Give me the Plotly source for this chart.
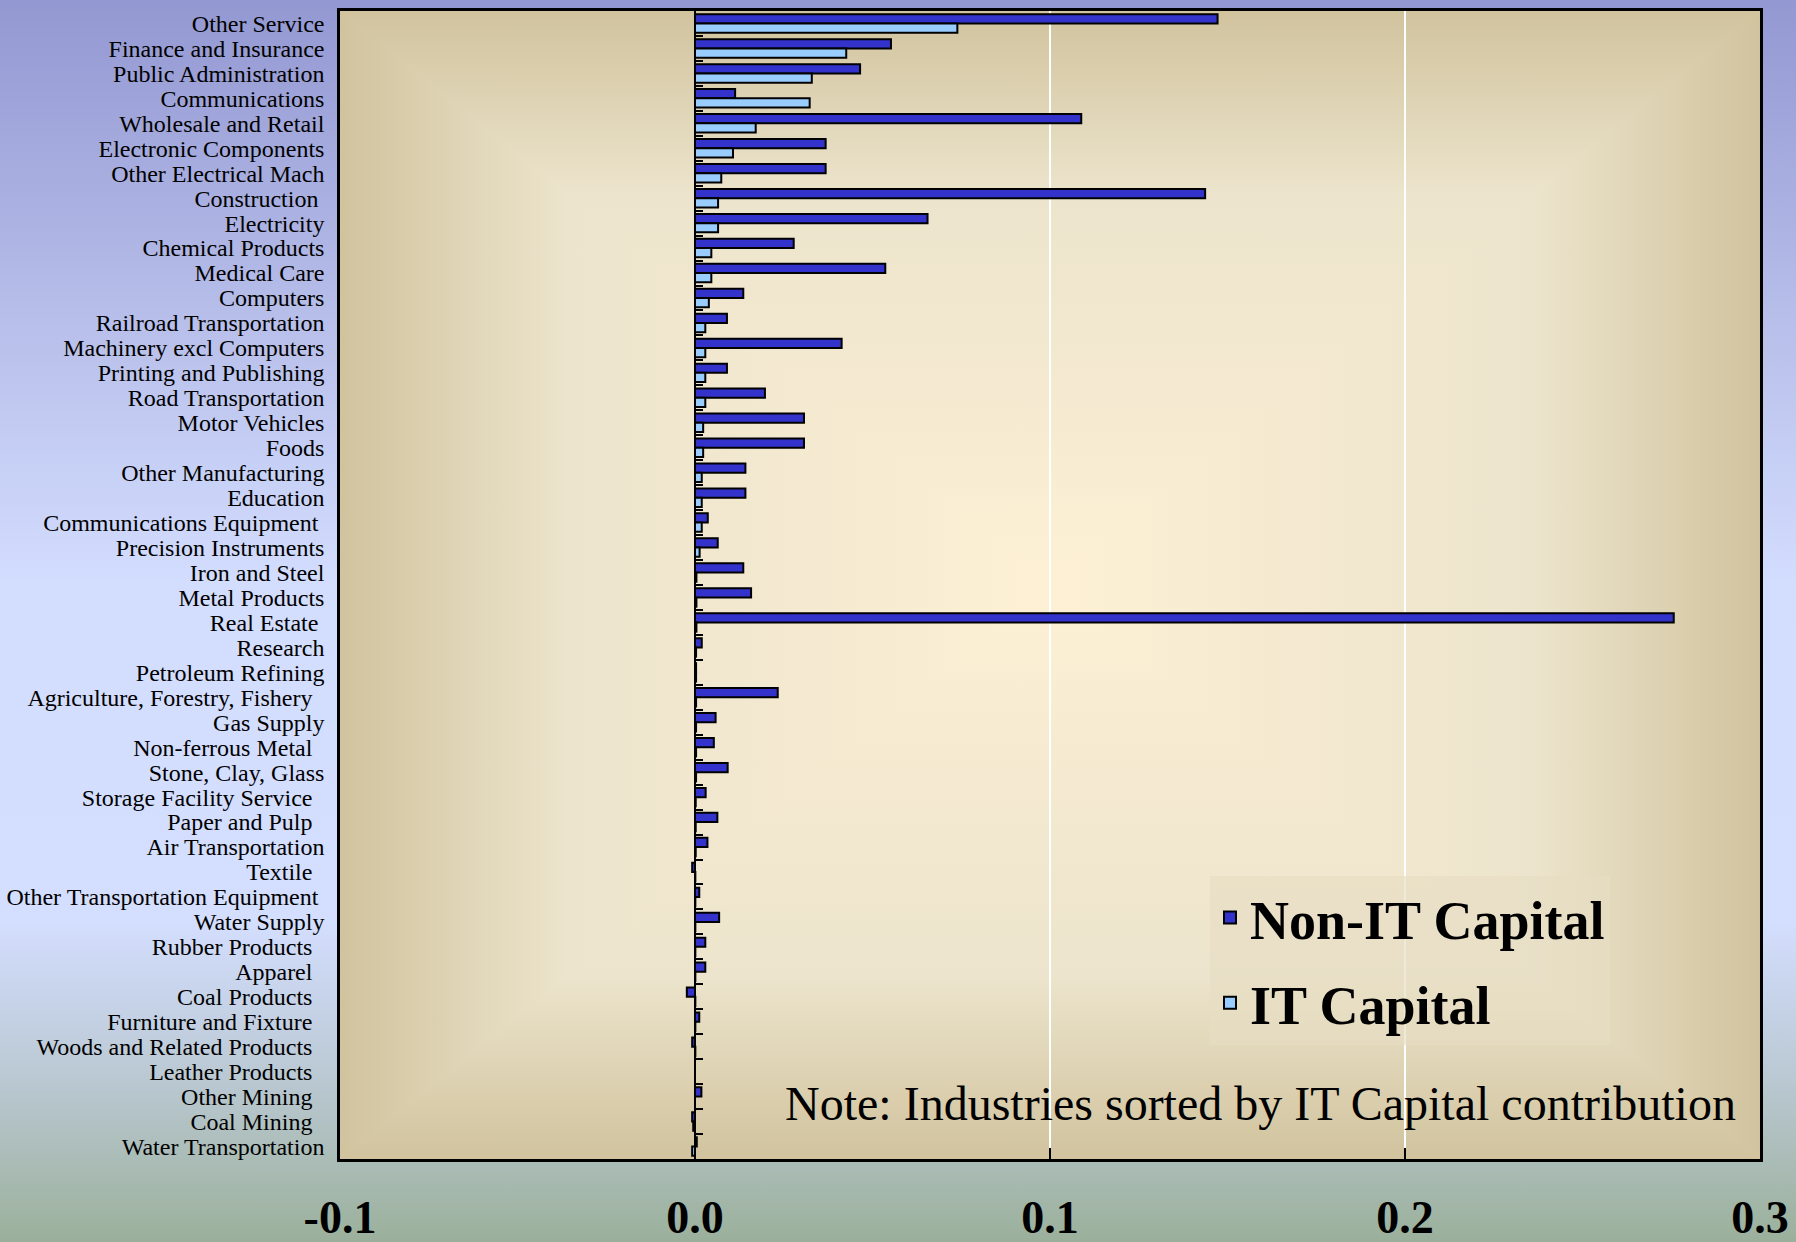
import base64
import plotly.graph_objects as go

# ---------------- data ----------------
industries = [
    "Other Service", "Finance and Insurance", "Public Administration", "Communications",
    "Wholesale and Retail", "Electronic Components", "Other Electrical Mach", "Construction\u00a0",
    "Electricity", "Chemical Products", "Medical Care", "Computers",
    "Railroad Transportation", "Machinery excl Computers", "Printing and Publishing",
    "Road Transportation", "Motor Vehicles", "Foods", "Other Manufacturing", "Education",
    "Communications Equipment\u00a0", "Precision Instruments", "Iron and Steel", "Metal Products",
    "Real Estate\u00a0", "Research", "Petroleum Refining", "Agriculture, Forestry, Fishery\u00a0\u00a0",
    "Gas Supply", "Non-ferrous Metal\u00a0\u00a0", "Stone, Clay, Glass", "Storage Facility Service\u00a0\u00a0",
    "Paper and Pulp\u00a0\u00a0", "Air Transportation", "Textile\u00a0\u00a0", "Other Transportation Equipment\u00a0",
    "Water Supply", "Rubber Products\u00a0\u00a0", "Apparel\u00a0\u00a0", "Coal Products\u00a0\u00a0",
    "Furniture and Fixture\u00a0\u00a0", "Woods and Related Products\u00a0\u00a0", "Leather Products\u00a0\u00a0",
    "Other Mining\u00a0\u00a0", "Coal Mining\u00a0\u00a0", "Water Transportation",
]

non_it_capital = [
    0.1472, 0.0552, 0.0465, 0.0113, 0.1088, 0.0368, 0.0368, 0.1437,
    0.0655, 0.0278, 0.0536, 0.0136, 0.0090, 0.0413, 0.0090, 0.0197,
    0.0307, 0.0307, 0.0142, 0.0142, 0.0036, 0.0064, 0.0136, 0.0158,
    0.2757, 0.0019, 0.0003, 0.0233, 0.0058, 0.0053, 0.0092, 0.0030,
    0.0063, 0.0035, -0.0008, 0.0012, 0.0068, 0.0029, 0.0029, -0.0023,
    0.0012, -0.0008, 0.0000, 0.0018, -0.0008, 0.0005,
]

it_capital = [
    0.0739, 0.0426, 0.0329, 0.0323, 0.0171, 0.0107, 0.0074, 0.0065,
    0.0065, 0.0046, 0.0046, 0.0039, 0.0029, 0.0029, 0.0029, 0.0029,
    0.0023, 0.0023, 0.0019, 0.0019, 0.0019, 0.0013, 0.0004, 0.0004,
    0.0004, 0.0003, 0.0003, 0.0003, 0.0003, 0.0003, 0.0003, 0.0002,
    0.0002, 0.0002, 0.0001, 0.0001, 0.0001, 0.0001, 0.0001, 0.0001,
    0.0001, 0.0001, 0.0000, 0.0000, -0.0005, -0.0008,
]

x_ticks = [-0.1, 0.0, 0.1, 0.2, 0.3]
x_tick_labels = ["-0.1", "0.0", "0.1", "0.2", "0.3"]
series_names = ["Non-IT Capital", "IT Capital"]
note_text = "Note: Industries sorted by IT Capital contribution"

# ---------------- styling ----------------
FONT = "Liberation Serif, Times New Roman, serif"
NONIT_COLOR = "#3333CC"
IT_COLOR = "#99CCFF"

W, H = 1796, 1242
ML, MR, MT, MB = 340, 36, 11, 83
PW, PH = W - ML - MR, H - MT - MB


def svg_uri(svg):
    return "data:image/svg+xml;base64," + base64.b64encode(svg.encode("utf-8")).decode("ascii")


# page background: vertical gradient (blue -> lavender -> grey-green)
page_svg = (
    '<svg xmlns="http://www.w3.org/2000/svg" width="100" height="100" viewBox="0 0 100 100" '
    'preserveAspectRatio="none"><defs><linearGradient id="g" x1="0" y1="0" x2="0" y2="1">'
    '<stop offset="0" stop-color="#9398D2"/>'
    '<stop offset="0.28" stop-color="#BAC2EC"/>'
    '<stop offset="0.47" stop-color="#D3DDFE"/>'
    '<stop offset="0.74" stop-color="#D4DEFF"/>'
    '<stop offset="0.86" stop-color="#BCCAD6"/>'
    '<stop offset="1" stop-color="#9BB09B"/>'
    '</linearGradient></defs><rect x="0" y="0" width="100" height="100" fill="url(#g)"/></svg>'
)

# plot area: rectangular "from centre" gradient (dark beige edges, cream centre)
stops = ('<stop offset="0" stop-color="#D1C39E"/>'
         '<stop offset="0.32" stop-color="#ECE4CC"/>'
         '<stop offset="1" stop-color="#FDF0D5"/>')
plot_svg = (
    '<svg xmlns="http://www.w3.org/2000/svg" width="100" height="100" viewBox="0 0 100 100" '
    'preserveAspectRatio="none"><defs>'
    f'<linearGradient id="t" gradientUnits="userSpaceOnUse" x1="0" y1="0" x2="0" y2="50">{stops}</linearGradient>'
    f'<linearGradient id="b" gradientUnits="userSpaceOnUse" x1="0" y1="100" x2="0" y2="50">{stops}</linearGradient>'
    f'<linearGradient id="l" gradientUnits="userSpaceOnUse" x1="0" y1="0" x2="50" y2="0">{stops}</linearGradient>'
    f'<linearGradient id="r" gradientUnits="userSpaceOnUse" x1="100" y1="0" x2="50" y2="0">{stops}</linearGradient>'
    '</defs>'
    '<rect x="0" y="0" width="100" height="100" fill="#EDE5CD"/>'
    '<polygon points="-0.3,0 100.3,0 50,50.3" fill="url(#t)"/>'
    '<polygon points="-0.3,100 100.3,100 50,49.7" fill="url(#b)"/>'
    '<polygon points="0,-0.3 0,100.3 50.3,50" fill="url(#l)"/>'
    '<polygon points="100,-0.3 100,100.3 49.7,50" fill="url(#r)"/>'
    '</svg>'
)

n = len(industries)

fig = go.Figure()
fig.add_trace(go.Bar(
    name=series_names[0], y=industries, x=non_it_capital, orientation="h",
    marker=dict(color=NONIT_COLOR, line=dict(color="black", width=2)),
    legendgroup="a",
))
fig.add_trace(go.Bar(
    name=series_names[1], y=industries, x=it_capital, orientation="h",
    marker=dict(color=IT_COLOR, line=dict(color="black", width=2)),
    legendgroup="b",
))
# invisible helper trace carrying the categories for the zero-crossing axis
fig.add_trace(go.Scatter(
    x=[0] * n, y=industries, yaxis="y2", mode="markers",
    marker=dict(opacity=0, size=1), hoverinfo="skip", showlegend=False,
))

fig.update_layout(
    width=W, height=H,
    margin=dict(l=ML, r=MR, t=MT, b=MB, pad=0, autoexpand=False),
    paper_bgcolor="#D4DEFF",
    plot_bgcolor="rgba(0,0,0,0)",
    barmode="group", bargap=0.26, bargroupgap=0.0,
    font=dict(family=FONT, color="black"),
    showlegend=True,
    legend=dict(
        x=(1210 - ML) / PW, y=1 - (876 - MT) / PH, xanchor="left", yanchor="top",
        bgcolor="rgba(230,221,195,0.65)", borderwidth=0,
        font=dict(family=FONT, size=54, color="black", weight="bold"),
        traceorder="grouped", tracegroupgap=12, valign="middle",
    ),
    xaxis=dict(
        range=[-0.1, 0.3], tickmode="array", tickvals=x_ticks, ticktext=x_tick_labels,
        automargin=False,
        showgrid=True, gridcolor="white", gridwidth=2,
        zeroline=True, zerolinecolor="black", zerolinewidth=2,
        showline=True, linecolor="black", linewidth=2.5, mirror=True,
        ticks="inside", ticklen=11, tickwidth=2, tickcolor="black",
        tickfont=dict(family=FONT, size=46, color="black", weight="bold"),
        ticklabelstandoff=16,
    ),
    yaxis=dict(
        categoryorder="array", categoryarray=industries,
        tickmode="array", tickvals=industries, ticktext=industries,
        range=[n - 0.5, -0.5], automargin=False,
        showgrid=False, zeroline=False,
        showline=True, linecolor="black", linewidth=2.5, mirror=True,
        ticks="", tickfont=dict(family=FONT, size=24, color="black"),
        ticklabelstandoff=8,
    ),
    yaxis2=dict(
        overlaying="y", anchor="free", position=0.25, side="left",
        categoryorder="array", categoryarray=industries,
        range=[n - 0.5, -0.5], automargin=False,
        showgrid=False, zeroline=False, showticklabels=False,
        showline=True, linecolor="black", linewidth=2,
        ticks="inside", tickson="boundaries", ticklen=7, tickwidth=2, tickcolor="black",
    ),
    images=[
        dict(source=svg_uri(page_svg), xref="paper", yref="paper",
             x=-ML / PW, y=1 + MT / PH, sizex=W / PW, sizey=H / PH,
             xanchor="left", yanchor="top", sizing="stretch", layer="below"),
        dict(source=svg_uri(plot_svg), xref="x domain", yref="y domain",
             x=0, y=1, sizex=1, sizey=1,
             xanchor="left", yanchor="top", sizing="stretch", layer="below"),
    ],
    annotations=[
        dict(text=note_text, xref="paper", yref="paper",
             x=(1738 - ML) / PW, y=1 - (1103 - MT) / PH, xanchor="right", yanchor="middle",
             showarrow=False, font=dict(family=FONT, size=48, color="black")),
    ],
)

fig.write_html(
    "out.html",
    config={"displayModeBar": False},
    post_script="document.body.style.margin='0';document.body.style.padding='0';"
                "document.body.style.overflow='hidden';",
)
